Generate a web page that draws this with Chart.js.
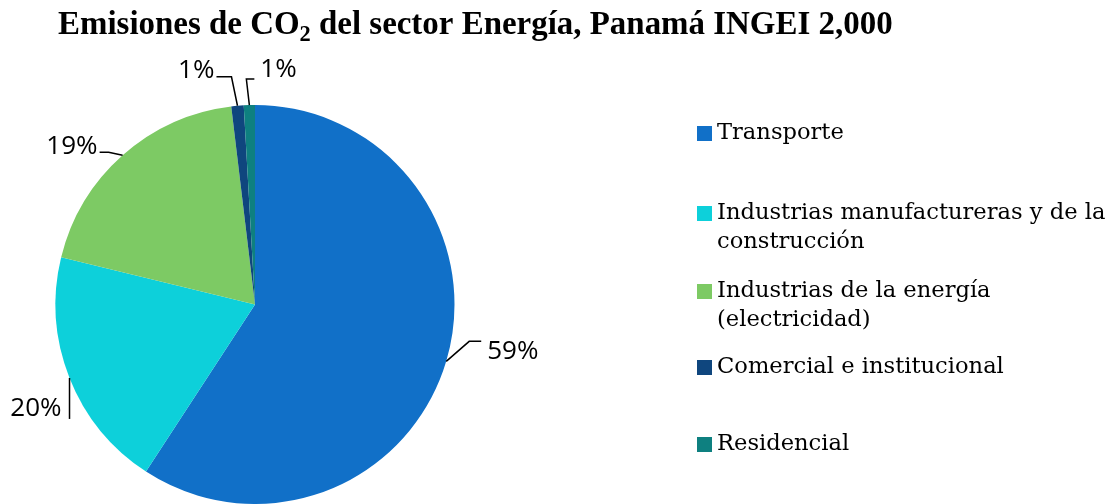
<!DOCTYPE html>
<html>
<head>
<meta charset="utf-8">
<script src="https://cdn.jsdelivr.net/npm/chart.js@4"></script>
<style>
  html, body { margin: 0; padding: 0; background: #fff; }
  #wrap { position: relative; width: 1113px; height: 504px; }
</style>
</head>
<body>
<div id="wrap"><canvas id="c" width="1113" height="504"></canvas></div>
<script>
const TITLE_PRE = "Emisiones de CO";
const TITLE_SUB = "2";
const TITLE_POST = " del sector Energía, Panamá INGEI 2,000";

const CATEGORIES = [
  "Transporte",
  "Industrias manufactureras y de la construcción",
  "Industrias de la energía (electricidad)",
  "Comercial e institucional",
  "Residencial",
];
// lines as they wrap in the legend
const LEGEND_LINES = [
  ["Transporte"],
  ["Industrias manufactureras y de la", "construcción"],
  ["Industrias de la energía", "(electricidad)"],
  ["Comercial e institucional"],
  ["Residencial"],
];
const SHARES = [59.2, 19.6, 19.3, 1.0, 0.9];
const COLORS = ["#1170c8", "#0dd0da", "#7dca64", "#0f467e", "#0e8080"];

const SERIF = '"DejaVu Serif", "Liberation Serif", serif';
const TSERIF = '"Liberation Serif", "DejaVu Serif", serif';
const SANS = '"Open Sans", "Noto Sans", sans-serif';

// leader line shapes, relative to slice mid point on the rim
const LEADERS = [
  { pts: [[23, -20], [35, -20]], label: [41, -10], align: "left" },
  { pts: [[0, 41]], label: [-8, 31], align: "right" },
  { pts: [[-14, -3], [-23, -3]], label: [-25, -9], align: "right" },
  { pts: [[-6, -29], [-21, -29]], label: [-23, -35], align: "right" },
  { pts: [[-3, -26], [5, -26]], label: [11, -35], align: "left" },
];

const overlay = {
  id: "overlay",
  afterDraw(chart) {
    const ctx = chart.ctx;
    ctx.save();

    // title with subscript, sized to span the same width as the original
    ctx.fillStyle = "#000";
    ctx.textBaseline = "alphabetic";
    ctx.textAlign = "left";
    const x0 = 58, x1 = 893, by = 34;
    const ratio = 0.68;
    ctx.font = "bold 100px " + TSERIF;
    let w100 = ctx.measureText(TITLE_PRE).width + ctx.measureText(TITLE_POST).width;
    ctx.font = "bold " + (100 * ratio) + "px " + TSERIF;
    w100 += ctx.measureText(TITLE_SUB).width;
    const fs = 100 * (x1 - x0) / w100;
    const tf = "bold " + fs + "px " + TSERIF;
    const sf = "bold " + (fs * ratio) + "px " + TSERIF;
    let x = x0;
    ctx.font = tf;
    ctx.fillText(TITLE_PRE, x, by);
    x += ctx.measureText(TITLE_PRE).width;
    ctx.font = sf;
    ctx.fillText(TITLE_SUB, x, by + 7);
    x += ctx.measureText(TITLE_SUB).width;
    ctx.font = tf;
    ctx.fillText(TITLE_POST, x, by);

    // data labels with leader lines
    const meta = chart.getDatasetMeta(0);
    const total = SHARES.reduce((a, b) => a + b, 0);
    ctx.strokeStyle = "#000";
    ctx.lineWidth = 1.5;
    ctx.font = "26px " + SANS;
    meta.data.forEach((arc, i) => {
      const p = arc.getProps(["x", "y", "startAngle", "endAngle", "outerRadius"], true);
      const mid = (p.startAngle + p.endAngle) / 2;
      const rx = p.x + Math.cos(mid) * p.outerRadius;
      const ry = p.y + Math.sin(mid) * p.outerRadius;
      const L = LEADERS[i];
      ctx.beginPath();
      ctx.moveTo(rx, ry);
      L.pts.forEach(([dx, dy]) => ctx.lineTo(rx + dx, ry + dy));
      ctx.stroke();
      ctx.textAlign = L.align;
      ctx.textBaseline = "middle";
      ctx.fillText(Math.round(SHARES[i] / total * 100) + "%", rx + L.label[0], ry + L.label[1]);
    });

    // legend
    const rowsY = [133, 213, 291, 367, 444];
    ctx.font = "22.6px " + SERIF;
    ctx.textAlign = "left";
    ctx.textBaseline = "middle";
    CATEGORIES.forEach((name, i) => {
      ctx.fillStyle = COLORS[i];
      ctx.fillRect(697, rowsY[i] - 7, 15, 15);
      ctx.fillStyle = "#000";
      LEGEND_LINES[i].forEach((line, j) => {
        ctx.fillText(line, 717, rowsY[i] + j * 29);
      });
    });

    ctx.restore();
  },
};

new Chart(document.getElementById("c"), {
  type: "pie",
  data: {
    labels: CATEGORIES,
    datasets: [{
      data: SHARES,
      backgroundColor: COLORS,
      borderWidth: 0,
    }],
  },
  options: {
    responsive: false,
    animation: false,
    layout: { padding: { left: 55, right: 658, top: 105, bottom: 0 } },
    plugins: {
      legend: { display: false },
      tooltip: { enabled: false },
      title: { display: false },
    },
  },
  plugins: [overlay],
});
</script>
</body>
</html>
